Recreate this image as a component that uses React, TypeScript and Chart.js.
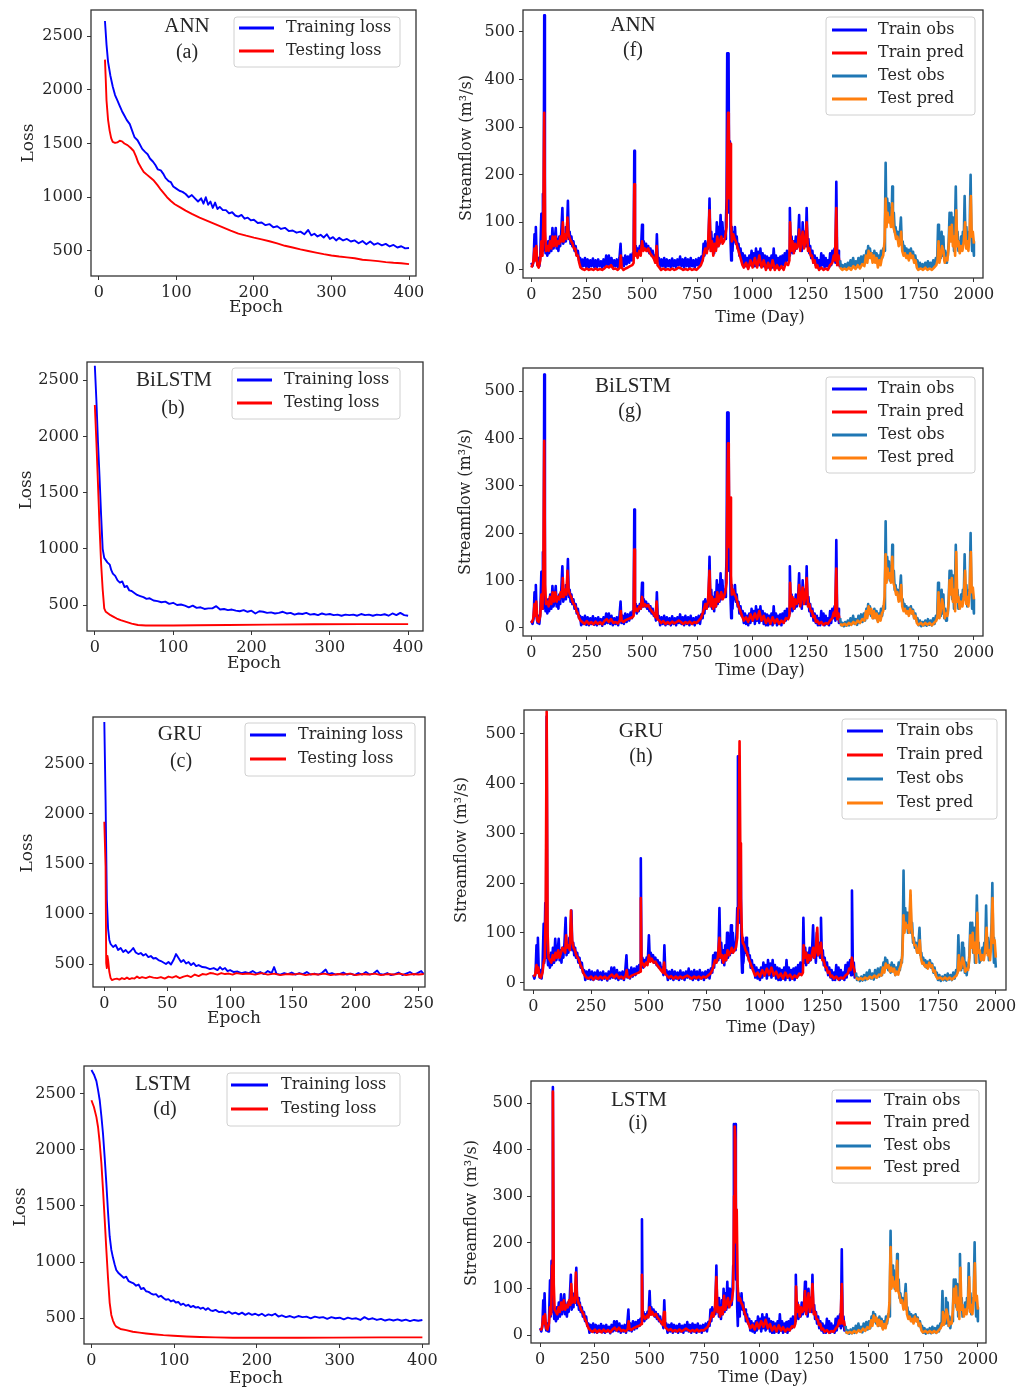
import React, { useEffect, useRef } from "react";
import { Chart, registerables } from "chart.js";
Chart.register(...registerables);

type Pair = [number, number];

// ---------- tick labels ----------
const LOSS_X_TICKS_400 = [0, 100, 200, 300, 400];
const LOSS_X_TICKS_GRU = [0, 50, 100, 150, 200, 250];
const LOSS_Y_TICKS = [500, 1000, 1500, 2000, 2500];
const FLOW_X_TICKS = [0, 250, 500, 750, 1000, 1250, 1500, 1750, 2000];
const FLOW_Y_TICKS = [0, 100, 200, 300, 400, 500];

// ---------- loss curves [epoch, loss] ----------
const annTrainLoss: Pair[] = [[8,2640],[10,2420],[12,2260],[15,2130],[18,2030],[21,1950],[24,1900],[27,1850],[30,1800],[33,1760],[36,1720],[40,1680],[43,1620],[46,1560],[50,1530],[53,1490],[56,1450],[60,1420],[63,1400],[66,1360],[70,1330],[73,1300],[76,1260],[80,1250],[83,1220],[86,1180],[90,1150],[93,1140],[96,1100],[100,1080],[104,1060],[108,1050],[112,1030],[116,1000],[120,1020],[124,990],[128,960],[132,990],[135,940],[138,1000],[141,930],[144,960],[147,900],[150,950],[153,890],[156,910],[160,880],[164,880],[168,850],[172,860],[176,830],[180,820],[184,835],[188,800],[192,810],[196,785],[200,790],[205,760],[210,765],[215,740],[220,750],[225,720],[230,730],[235,705],[240,715],[245,685],[250,690],[255,670],[260,680],[265,655],[270,695],[274,645],[278,660],[282,635],[286,650],[290,625],[294,655],[298,612],[302,628],[306,598],[310,622],[315,598],[320,612],[325,588],[330,598],[335,572],[340,592],[345,562],[350,588],[355,558],[360,572],[365,552],[370,566],[375,542],[380,556],[385,532],[390,544],[395,524],[400,528]];
const annTestLoss: Pair[] = [[8,2280],[9,2100],[10,1900],[12,1720],[14,1620],[16,1550],[18,1515],[21,1505],[24,1510],[27,1525],[30,1520],[33,1500],[37,1485],[41,1460],[45,1430],[48,1380],[51,1320],[55,1270],[58,1235],[62,1210],[66,1185],[71,1155],[76,1110],[80,1070],[84,1035],[88,1000],[93,965],[98,935],[105,905],[112,875],[120,845],[130,810],[140,780],[150,750],[160,720],[170,690],[180,662],[190,642],[200,624],[210,608],[220,590],[230,570],[240,548],[250,532],[260,515],[270,500],[280,485],[290,470],[300,458],[310,448],[320,440],[330,432],[340,418],[350,412],[360,405],[370,396],[380,390],[390,386],[400,378]];
const bilstmTrainLoss: Pair[] = [[0,2630],[2,2320],[4,1950],[6,1640],[8,1300],[10,1000],[12,920],[14,900],[16,880],[19,860],[21,810],[23,780],[26,760],[29,720],[32,700],[35,710],[38,660],[41,670],[44,630],[47,625],[50,610],[54,590],[58,580],[62,570],[66,555],[70,560],[75,540],[80,535],[85,525],[90,530],[95,510],[100,520],[105,500],[110,505],[115,495],[120,480],[125,495],[130,475],[135,480],[140,465],[145,470],[150,470],[155,490],[160,460],[165,465],[170,455],[175,460],[180,450],[185,445],[190,455],[195,440],[200,450],[205,425],[210,445],[215,440],[220,430],[225,435],[230,425],[235,430],[240,440],[245,425],[250,430],[255,415],[260,425],[265,420],[270,430],[275,415],[280,420],[285,410],[290,425],[295,415],[300,420],[305,410],[310,415],[315,405],[320,415],[325,410],[330,415],[335,405],[340,420],[345,410],[350,415],[355,405],[360,415],[365,410],[370,418],[375,405],[380,425],[385,410],[390,430],[395,410],[400,405]];
const bilstmTestLoss: Pair[] = [[0,2280],[2,1950],[4,1580],[6,1200],[8,870],[10,640],[12,470],[14,440],[17,425],[20,410],[24,395],[28,380],[33,365],[40,350],[47,335],[55,322],[65,318],[80,318],[100,318],[130,320],[170,323],[220,326],[280,329],[340,330],[400,330]];
const gruTrainLoss: Pair[] = [[0,2915],[1,2135],[2,1140],[3,850],[4,740],[5,700],[7,670],[9,690],[11,640],[13,660],[15,620],[17,640],[19,610],[21,630],[23,660],[25,615],[27,600],[29,610],[31,585],[33,600],[35,570],[37,580],[39,555],[41,560],[43,540],[45,530],[47,515],[49,500],[51,520],[53,495],[55,540],[57,600],[59,560],[61,520],[63,540],[65,505],[67,520],[69,490],[71,510],[73,480],[75,490],[78,470],[81,465],[84,450],[87,460],[90,440],[92,470],[94,445],[96,460],[98,430],[100,440],[103,420],[106,425],[109,410],[112,420],[115,410],[118,430],[121,405],[124,420],[127,400],[130,430],[133,410],[135,470],[137,400],[140,395],[143,410],[146,400],[149,415],[152,395],[155,410],[158,400],[161,420],[164,395],[167,405],[170,395],[173,410],[176,445],[178,400],[181,410],[184,395],[187,400],[190,415],[193,395],[196,405],[199,390],[202,410],[205,395],[208,420],[211,395],[214,405],[217,435],[219,400],[222,395],[225,410],[228,390],[231,400],[234,415],[237,390],[240,405],[243,420],[246,395],[249,410],[252,430],[254,400]];
const gruTestLoss: Pair[] = [[0,1920],[1,1470],[1.5,510],[2,460],[2.5,580],[3,540],[4,420],[5,360],[6,340],[8,350],[10,355],[12,345],[14,360],[16,350],[18,365],[20,350],[22,360],[24,355],[26,375],[28,360],[30,370],[33,360],[36,375],[39,365],[42,360],[45,370],[48,355],[51,375],[54,365],[57,380],[60,360],[63,375],[66,385],[69,370],[72,395],[75,380],[78,400],[81,395],[84,410],[87,405],[90,395],[93,410],[96,400],[99,405],[102,395],[105,410],[110,400],[115,405],[120,395],[125,410],[130,395],[135,405],[140,390],[145,400],[150,395],[155,405],[160,390],[165,400],[170,395],[175,405],[180,390],[185,400],[190,395],[195,405],[200,390],[205,400],[210,395],[215,405],[220,390],[225,400],[230,395],[235,405],[240,390],[245,400],[250,395],[254,400]];
const lstmTrainLoss: Pair[] = [[0,2710],[3,2670],[6,2610],[8,2530],[10,2440],[12,2300],[14,2140],[16,1930],[18,1700],[20,1450],[22,1230],[24,1110],[26,1040],[28,980],[30,930],[33,900],[36,880],[39,860],[42,870],[45,830],[48,820],[51,810],[54,790],[57,800],[60,760],[63,770],[66,740],[69,735],[72,720],[75,710],[78,715],[81,690],[84,700],[87,680],[90,665],[93,670],[96,650],[99,660],[102,640],[105,645],[108,620],[111,630],[114,610],[117,620],[120,600],[123,610],[126,595],[129,600],[132,585],[135,595],[138,575],[141,590],[144,570],[147,565],[150,575],[154,555],[158,560],[162,545],[166,560],[170,540],[174,550],[178,535],[182,550],[186,530],[190,545],[194,530],[198,540],[202,525],[206,540],[210,520],[214,535],[218,525],[222,540],[226,515],[230,525],[235,510],[240,520],[245,505],[250,520],[255,510],[260,515],[265,500],[270,515],[275,505],[280,510],[285,495],[290,510],[295,500],[300,505],[305,490],[310,505],[315,495],[320,500],[325,485],[330,510],[335,490],[340,500],[345,485],[350,495],[355,480],[360,490],[365,480],[370,490],[375,478],[380,488],[385,475],[390,485],[395,478],[400,485]];
const lstmTestLoss: Pair[] = [[0,2440],[3,2380],[6,2290],[8,2200],[10,2060],[12,1880],[14,1640],[16,1380],[18,1110],[20,860],[22,640],[24,530],[26,480],[28,445],[30,425],[35,405],[42,395],[50,380],[58,372],[66,365],[75,358],[87,350],[99,344],[115,338],[131,333],[150,330],[171,327],[211,326],[250,327],[292,328],[350,330],[400,330]];

// ---------- streamflow [day, m3/s] ----------
const trainObs: Pair[] = [[0,15],[5,8],[10,20],[14,75],[17,30],[20,90],[24,20],[28,10],[32,25],[36,8],[40,30],[45,118],[48,40],[52,160],[55,50],[58,535],[61,60],[64,35],[68,55],[72,30],[76,60],[80,35],[85,70],[90,40],[95,88],[100,45],[105,60],[110,88],[114,45],[118,65],[122,40],[126,70],[130,50],[135,80],[140,130],[144,55],[148,75],[152,60],[156,90],[160,70],[165,145],[169,65],[173,80],[177,55],[181,70],[185,50],[190,60],[195,40],[200,50],[205,30],[210,40],[215,20],[220,25],[225,5],[230,22],[236,8],[242,25],[248,6],[254,22],[260,5],[266,20],[272,8],[278,24],[284,6],[290,20],[296,5],[302,22],[308,8],[314,18],[320,4],[326,22],[332,8],[338,30],[344,10],[350,30],[356,8],[362,25],[368,5],[374,20],[380,8],[386,22],[392,5],[398,25],[403,55],[407,10],[412,25],[418,8],[424,30],[430,12],[436,28],[442,15],[448,32],[454,20],[458,35],[462,30],[465,250],[468,35],[472,50],[476,30],[480,45],[485,35],[490,50],[495,40],[500,95],[504,45],[508,60],[513,45],[518,55],[523,40],[528,50],[533,35],[538,45],[543,30],[548,40],[553,25],[558,30],[563,15],[567,75],[571,20],[576,25],[582,5],[588,22],[594,8],[600,25],[606,5],[612,22],[618,8],[624,20],[630,5],[636,24],[642,8],[648,20],[654,5],[660,22],[666,10],[672,28],[678,8],[684,22],[690,5],[696,25],[702,8],[708,22],[714,5],[720,25],[726,8],[732,20],[738,5],[744,22],[750,10],[756,25],[762,8],[768,28],[774,20],[778,55],[782,30],[786,60],[790,40],[795,55],[800,45],[805,150],[809,50],[813,80],[817,40],[822,65],[826,35],[830,75],[834,45],[838,100],[842,50],[846,90],[850,55],[855,115],[859,60],[863,100],[867,70],[871,80],[875,65],[879,100],[882,150],[885,455],[888,440],[891,455],[894,120],[897,270],[900,60],[903,20],[906,90],[909,40],[912,80],[916,60],[920,90],[924,55],[928,70],[932,45],[936,55],[940,30],[945,45],[950,25],[955,35],[960,10],[965,30],[970,8],[975,25],[980,5],[985,30],[990,10],[995,40],[1000,15],[1005,35],[1010,8],[1015,45],[1020,15],[1025,38],[1030,10],[1035,45],[1040,15],[1045,35],[1050,8],[1055,30],[1060,5],[1065,28],[1070,5],[1075,25],[1080,8],[1085,30],[1090,5],[1095,45],[1100,10],[1105,30],[1110,5],[1115,25],[1120,8],[1125,28],[1130,5],[1135,30],[1140,10],[1145,35],[1150,15],[1155,40],[1160,20],[1165,30],[1168,130],[1172,40],[1176,70],[1180,35],[1185,60],[1190,40],[1195,70],[1200,45],[1205,60],[1210,115],[1214,50],[1218,70],[1222,40],[1226,100],[1230,55],[1235,80],[1240,50],[1244,130],[1248,50],[1252,65],[1256,35],[1260,50],[1265,25],[1270,40],[1275,15],[1280,30],[1285,10],[1290,25],[1295,5],[1300,20],[1305,5],[1310,35],[1315,10],[1320,30],[1325,5],[1330,25],[1335,8],[1340,20],[1345,5],[1350,35],[1355,10],[1360,40],[1365,20],[1370,45],[1374,15],[1378,185],[1382,20],[1386,40],[1390,10],[1395,20]];
const testObs: Pair[] = [[1395,20],[1400,5],[1406,10],[1412,3],[1418,12],[1424,4],[1430,15],[1436,5],[1442,20],[1448,8],[1454,25],[1460,8],[1466,18],[1472,6],[1478,25],[1484,10],[1490,28],[1496,12],[1502,30],[1508,15],[1514,40],[1518,25],[1522,50],[1526,30],[1530,45],[1535,25],[1540,35],[1545,20],[1550,40],[1555,25],[1560,35],[1565,15],[1570,30],[1575,20],[1580,40],[1585,25],[1590,45],[1594,40],[1598,100],[1601,225],[1604,110],[1608,150],[1612,120],[1616,140],[1620,100],[1624,130],[1628,110],[1631,175],[1634,100],[1638,120],[1642,80],[1646,90],[1650,70],[1655,80],[1660,60],[1665,75],[1670,110],[1674,55],[1678,60],[1682,40],[1686,50],[1690,35],[1695,45],[1700,30],[1705,42],[1710,35],[1715,45],[1720,30],[1725,38],[1730,20],[1735,30],[1740,15],[1745,20],[1750,5],[1756,15],[1762,3],[1768,12],[1774,5],[1780,15],[1786,4],[1792,18],[1798,6],[1804,15],[1810,5],[1816,20],[1822,8],[1828,25],[1834,20],[1838,95],[1842,30],[1846,50],[1850,25],[1854,80],[1858,30],[1862,70],[1866,20],[1870,40],[1874,15],[1878,35],[1882,30],[1886,60],[1890,120],[1894,90],[1898,120],[1902,60],[1906,110],[1910,40],[1914,80],[1918,175],[1922,60],[1926,80],[1930,40],[1934,60],[1938,45],[1942,70],[1946,50],[1950,80],[1954,60],[1958,155],[1962,60],[1966,90],[1970,45],[1974,60],[1978,80],[1982,120],[1985,200],[1988,90],[1992,40],[1996,60],[2000,30]];

const annTrainPred: Pair[] = [[0,5],[8,15],[14,45],[18,20],[22,50],[27,10],[33,5],[40,20],[45,60],[50,30],[54,100],[58,330],[62,80],[66,40],[72,50],[78,40],[84,60],[90,45],[96,70],[102,50],[108,70],[114,50],[120,60],[126,55],[132,70],[138,60],[142,100],[146,60],[152,75],[158,65],[163,110],[168,75],[174,65],[180,60],[186,55],[192,45],[198,45],[204,30],[210,30],[216,15],[222,5],[230,2],[240,0],[250,3],[260,0],[270,2],[280,0],[290,3],[300,0],[310,2],[320,0],[330,3],[340,8],[350,5],[360,10],[370,2],[380,3],[390,0],[400,5],[404,30],[408,5],[416,0],[426,3],[436,5],[446,8],[456,10],[462,15],[465,180],[468,30],[474,35],[480,25],[488,40],[494,30],[500,60],[506,40],[512,45],[520,40],[528,45],[536,35],[544,30],[552,25],[560,15],[566,50],[570,10],[578,5],[586,0],[596,3],[606,0],[616,2],[626,0],[636,3],[646,0],[656,2],[666,5],[676,3],[686,0],[696,2],[706,0],[716,3],[726,0],[736,2],[746,0],[756,5],[766,10],[774,20],[780,35],[786,45],[792,35],[798,50],[805,125],[810,40],[816,60],[822,30],[828,55],[834,40],[840,70],[846,50],[852,60],[858,70],[864,55],[870,60],[876,70],[882,90],[886,260],[889,330],[892,310],[895,150],[898,265],[902,100],[906,60],[912,75],[918,65],[924,60],[930,50],[936,40],[942,30],[948,20],[954,10],[960,5],[970,15],[980,2],[990,20],[1000,5],[1010,25],[1020,5],[1030,30],[1040,5],[1050,20],[1060,0],[1070,15],[1080,0],[1090,20],[1100,0],[1110,10],[1120,0],[1130,8],[1140,0],[1150,15],[1160,10],[1166,20],[1169,100],[1174,40],[1180,60],[1186,35],[1192,55],[1198,45],[1204,50],[1210,85],[1215,40],[1220,60],[1226,80],[1232,45],[1238,60],[1244,100],[1250,40],[1256,45],[1262,30],[1268,30],[1274,15],[1280,20],[1286,5],[1292,10],[1300,0],[1310,5],[1320,0],[1330,3],[1340,0],[1350,10],[1360,15],[1366,30],[1372,20],[1378,130],[1382,10],[1388,30],[1395,5]];
const annTestPred: Pair[] = [[1395,5],[1405,0],[1415,3],[1425,0],[1435,5],[1445,0],[1455,8],[1465,2],[1475,10],[1485,3],[1495,12],[1505,8],[1512,30],[1518,15],[1524,40],[1530,25],[1536,35],[1542,15],[1548,30],[1554,15],[1560,25],[1566,5],[1572,20],[1578,10],[1584,25],[1590,30],[1596,60],[1601,150],[1605,90],[1610,120],[1615,100],[1620,110],[1625,90],[1631,140],[1636,90],[1642,80],[1648,65],[1654,70],[1660,50],[1666,55],[1671,80],[1676,40],[1682,30],[1688,35],[1694,25],[1700,30],[1706,20],[1712,35],[1718,25],[1724,30],[1730,15],[1736,20],[1742,5],[1748,0],[1760,3],[1770,0],[1780,5],[1790,0],[1800,3],[1810,0],[1820,5],[1830,10],[1836,20],[1840,60],[1844,15],[1850,30],[1856,50],[1862,40],[1868,15],[1874,25],[1880,20],[1886,50],[1890,90],[1895,60],[1900,95],[1905,50],[1910,70],[1915,30],[1920,125],[1925,50],[1930,60],[1936,35],[1942,50],[1948,40],[1954,60],[1960,100],[1965,45],[1970,60],[1975,40],[1980,70],[1986,155],[1990,70],[1995,80],[2000,55]];

const bilstmTrainPred: Pair[] = [[0,10],[8,18],[14,50],[18,25],[22,55],[27,15],[33,12],[40,25],[45,70],[50,40],[54,110],[58,395],[62,90],[66,50],[72,55],[78,45],[84,65],[90,50],[96,75],[102,55],[108,75],[114,55],[120,65],[126,60],[132,75],[138,65],[142,105],[146,65],[152,80],[158,70],[163,120],[168,80],[174,70],[180,65],[186,55],[192,50],[198,45],[204,35],[210,30],[216,20],[222,15],[230,12],[240,8],[250,14],[260,8],[270,12],[280,7],[290,13],[300,8],[310,12],[320,7],[330,14],[340,18],[350,12],[360,18],[370,10],[380,12],[390,9],[400,15],[404,35],[408,15],[416,12],[426,16],[436,18],[446,20],[456,22],[462,25],[465,165],[468,35],[474,40],[480,35],[488,45],[494,40],[500,65],[506,45],[512,50],[520,45],[528,48],[536,40],[544,35],[552,30],[560,22],[566,55],[570,18],[578,15],[586,10],[596,14],[606,8],[616,12],[626,8],[636,13],[646,9],[656,12],[666,15],[676,12],[686,8],[696,12],[706,9],[716,13],[726,8],[736,12],[746,10],[756,15],[766,20],[774,30],[780,40],[786,50],[792,40],[798,55],[805,120],[810,45],[816,65],[822,40],[828,60],[834,45],[840,75],[846,55],[852,65],[858,75],[864,60],[870,65],[876,75],[882,95],[886,300],[889,390],[892,360],[895,170],[898,275],[902,110],[906,70],[912,80],[918,70],[924,65],[930,55],[936,45],[942,38],[948,30],[954,22],[960,15],[970,22],[980,12],[990,28],[1000,15],[1010,30],[1020,18],[1030,35],[1040,15],[1050,25],[1060,10],[1070,20],[1080,8],[1090,22],[1100,10],[1110,18],[1120,8],[1130,15],[1140,10],[1150,20],[1160,18],[1166,25],[1169,95],[1174,45],[1180,65],[1186,40],[1192,60],[1198,50],[1204,55],[1210,90],[1215,45],[1220,65],[1226,85],[1232,50],[1238,65],[1244,105],[1250,45],[1256,50],[1262,35],[1268,35],[1274,22],[1280,25],[1286,12],[1292,15],[1300,8],[1310,12],[1320,6],[1330,10],[1340,8],[1350,15],[1360,20],[1366,32],[1372,25],[1378,125],[1382,18],[1388,30],[1395,10]];
const bilstmTestPred: Pair[] = [[1395,8],[1405,5],[1415,8],[1425,5],[1435,10],[1445,6],[1455,12],[1465,8],[1475,15],[1485,10],[1495,18],[1505,15],[1512,35],[1518,20],[1524,45],[1530,30],[1536,40],[1542,20],[1548,35],[1554,20],[1560,30],[1566,12],[1572,25],[1578,15],[1584,30],[1590,35],[1596,65],[1601,155],[1605,95],[1610,125],[1615,105],[1620,115],[1625,95],[1631,150],[1636,95],[1642,85],[1648,70],[1654,75],[1660,55],[1666,60],[1671,90],[1676,45],[1682,35],[1688,40],[1694,30],[1700,35],[1706,25],[1712,40],[1718,30],[1724,35],[1730,20],[1736,25],[1742,10],[1748,6],[1760,10],[1770,5],[1780,10],[1790,6],[1800,10],[1810,5],[1820,10],[1830,15],[1836,25],[1840,75],[1844,20],[1850,35],[1856,60],[1862,45],[1868,20],[1874,30],[1880,25],[1886,55],[1890,100],[1895,70],[1900,105],[1905,55],[1910,80],[1915,35],[1920,160],[1925,55],[1930,65],[1936,40],[1942,55],[1948,45],[1954,65],[1960,120],[1965,50],[1970,65],[1975,45],[1980,75],[1986,160],[1990,75],[1995,85],[2000,60]];

const gruTrainPred: Pair[] = [[0,12],[8,15],[14,35],[18,20],[22,30],[27,12],[33,10],[40,20],[45,40],[50,50],[54,150],[58,545],[62,100],[66,50],[72,45],[78,40],[84,55],[90,45],[96,60],[102,50],[108,65],[114,50],[120,60],[126,70],[132,65],[138,60],[142,95],[146,70],[152,75],[158,65],[163,145],[168,85],[174,70],[180,65],[186,55],[192,50],[198,45],[204,35],[210,30],[216,20],[222,15],[230,10],[240,8],[250,12],[260,6],[270,12],[280,7],[290,12],[300,8],[310,12],[320,7],[330,12],[340,16],[350,10],[360,16],[370,9],[380,12],[390,8],[400,14],[404,25],[408,12],[416,10],[426,14],[436,16],[446,18],[456,20],[462,22],[465,170],[468,40],[474,38],[480,32],[488,40],[494,35],[500,55],[506,42],[512,48],[520,40],[528,42],[536,35],[544,30],[552,25],[560,20],[566,40],[570,18],[578,14],[586,10],[596,13],[606,8],[616,12],[626,8],[636,12],[646,9],[656,12],[666,14],[676,11],[686,8],[696,12],[706,9],[716,12],[726,8],[736,12],[746,10],[756,14],[766,18],[774,25],[780,35],[786,45],[792,40],[798,50],[805,90],[810,50],[816,55],[822,40],[828,55],[834,45],[840,65],[846,55],[852,60],[858,70],[864,60],[870,65],[876,70],[882,90],[886,150],[889,300],[892,485],[895,280],[898,170],[902,100],[906,80],[912,75],[918,65],[924,60],[930,50],[936,42],[942,35],[948,28],[954,20],[960,14],[970,20],[980,12],[990,25],[1000,14],[1010,28],[1020,16],[1030,30],[1040,14],[1050,22],[1060,10],[1070,18],[1080,8],[1090,20],[1100,10],[1110,16],[1120,8],[1130,14],[1140,10],[1150,18],[1160,15],[1166,20],[1169,75],[1174,50],[1180,60],[1186,40],[1192,55],[1198,45],[1204,55],[1210,70],[1215,50],[1220,60],[1228,110],[1232,55],[1238,60],[1244,80],[1250,45],[1256,45],[1262,32],[1268,30],[1274,20],[1280,22],[1286,12],[1292,14],[1300,8],[1310,12],[1320,6],[1330,10],[1340,8],[1350,14],[1360,18],[1366,28],[1372,25],[1378,50],[1382,35],[1388,25],[1395,10]];
const gruTestPred: Pair[] = [[1395,10],[1405,6],[1415,9],[1425,6],[1435,10],[1445,7],[1455,12],[1465,9],[1475,14],[1485,10],[1495,16],[1505,14],[1512,30],[1518,20],[1524,38],[1530,30],[1536,35],[1542,22],[1548,30],[1554,22],[1560,28],[1566,15],[1572,22],[1578,16],[1584,28],[1590,35],[1596,55],[1601,135],[1605,100],[1610,120],[1615,110],[1620,115],[1625,100],[1631,185],[1636,110],[1642,90],[1648,75],[1654,75],[1660,60],[1666,60],[1671,85],[1676,50],[1682,38],[1688,40],[1694,32],[1700,35],[1706,28],[1712,40],[1718,32],[1724,35],[1730,22],[1736,24],[1742,12],[1748,8],[1760,10],[1770,6],[1780,10],[1790,6],[1800,10],[1810,6],[1820,10],[1830,14],[1836,22],[1840,55],[1844,25],[1850,30],[1856,50],[1862,40],[1868,22],[1874,28],[1880,25],[1886,50],[1890,95],[1895,70],[1900,100],[1905,60],[1910,80],[1915,40],[1920,140],[1925,60],[1930,65],[1936,45],[1942,55],[1948,45],[1954,65],[1960,110],[1965,55],[1970,65],[1975,45],[1980,75],[1986,170],[1990,80],[1995,85],[2000,50]];

const lstmTrainPred: Pair[] = [[0,10],[8,15],[14,40],[18,25],[22,45],[27,15],[33,12],[40,25],[45,60],[50,45],[54,150],[58,525],[62,110],[66,55],[72,50],[78,45],[84,60],[90,50],[96,70],[102,55],[108,75],[114,55],[120,65],[126,60],[132,75],[138,65],[142,110],[146,70],[152,80],[158,70],[163,135],[168,85],[174,70],[180,65],[186,55],[192,50],[198,45],[204,35],[210,30],[216,20],[222,14],[230,10],[240,7],[250,12],[260,6],[270,11],[280,6],[290,12],[300,7],[310,11],[320,6],[330,12],[340,16],[350,10],[360,16],[370,9],[380,11],[390,8],[400,13],[404,30],[408,14],[416,11],[426,15],[436,17],[446,19],[456,21],[462,24],[465,130],[468,45],[474,40],[480,35],[488,42],[494,38],[500,60],[506,44],[512,50],[520,42],[528,46],[536,38],[544,33],[552,28],[560,22],[566,50],[570,18],[578,14],[586,10],[596,13],[606,8],[616,11],[626,8],[636,12],[646,8],[656,11],[666,14],[676,11],[686,8],[696,11],[706,8],[716,12],[726,8],[736,11],[746,10],[756,14],[766,18],[774,28],[780,38],[786,48],[792,40],[798,55],[805,125],[810,50],[816,60],[822,40],[828,60],[834,45],[840,85],[846,55],[852,70],[858,80],[864,60],[870,70],[876,75],[882,100],[886,300],[889,450],[892,420],[895,200],[898,270],[902,110],[906,75],[912,80],[918,70],[924,65],[930,55],[936,45],[942,38],[948,30],[954,22],[960,15],[970,22],[980,12],[990,27],[1000,15],[1010,30],[1020,18],[1030,33],[1040,15],[1050,24],[1060,10],[1070,19],[1080,8],[1090,21],[1100,10],[1110,17],[1120,8],[1130,14],[1140,10],[1150,19],[1160,17],[1166,25],[1169,105],[1174,50],[1180,65],[1186,40],[1192,60],[1198,50],[1204,55],[1210,95],[1215,45],[1220,65],[1226,90],[1232,50],[1238,65],[1244,110],[1250,45],[1256,50],[1262,35],[1268,33],[1274,22],[1280,24],[1286,12],[1292,14],[1300,7],[1310,11],[1320,5],[1330,9],[1340,7],[1350,14],[1360,20],[1366,32],[1372,25],[1378,110],[1382,25],[1388,30],[1395,10]];
const lstmTestPred: Pair[] = [[1395,8],[1405,4],[1415,7],[1425,4],[1435,9],[1445,5],[1455,11],[1465,7],[1475,14],[1485,9],[1495,17],[1505,14],[1512,32],[1518,20],[1524,42],[1530,30],[1536,38],[1542,20],[1548,33],[1554,20],[1560,30],[1566,12],[1572,24],[1578,15],[1584,30],[1590,38],[1596,70],[1601,190],[1605,100],[1610,125],[1615,105],[1620,115],[1625,95],[1631,160],[1636,95],[1642,85],[1648,70],[1654,75],[1660,55],[1666,60],[1671,90],[1676,45],[1682,35],[1688,40],[1694,30],[1700,35],[1706,25],[1712,40],[1718,30],[1724,35],[1730,20],[1736,25],[1742,10],[1748,6],[1760,9],[1770,5],[1780,9],[1790,5],[1800,9],[1810,5],[1820,10],[1830,15],[1836,25],[1840,50],[1844,22],[1850,32],[1856,55],[1862,42],[1868,20],[1874,28],[1880,25],[1886,55],[1890,100],[1895,70],[1900,105],[1905,55],[1910,80],[1915,35],[1920,145],[1925,55],[1930,65],[1936,40],[1942,55],[1948,45],[1954,65],[1960,125],[1965,50],[1970,65],[1975,45],[1980,75],[1986,155],[1990,75],[1995,85],[2000,55]];

// ---------- styles ----------
const SERIF = "'DejaVu Serif', serif";
const TITLE_SERIF = "'Liberation Serif', 'Times New Roman', serif";
const TEXT_COLOR = "#262626";
const C_BLUE = "#0000ff";
const C_RED = "#ff0000";
const C_TEST_OBS = "#1f77b4";
const C_TEST_PRED = "#ff7f0e";

const YW = 64, XH = 36, PT = 12, PR = 30;

type Series = { label: string; color: string; data: Pair[]; width: number; order: number };
type LegendSpec = { box: [number, number, number, number]; rows: number[]; handle: [number, number]; textX: number };
type PanelSpec = {
  plot: { l: number; t: number; r: number; b: number };
  x: [number, number]; y: [number, number];
  xTicks: number[]; yTicks: number[];
  series: Series[]; legend: LegendSpec;
};

function lossSeries(train: Pair[], test: Pair[]): Series[] {
  return [
    { label: "Training loss", color: C_BLUE, data: train, width: 1.9, order: 2 },
    { label: "Testing loss", color: C_RED, data: test, width: 1.9, order: 1 },
  ];
}
function flowSeries(trainPred: Pair[], testPred: Pair[]): Series[] {
  return [
    { label: "Train obs", color: C_BLUE, data: trainObs, width: 2.6, order: 4 },
    { label: "Train pred", color: C_RED, data: trainPred, width: 2.6, order: 3 },
    { label: "Test obs", color: C_TEST_OBS, data: testObs, width: 2.6, order: 2 },
    { label: "Test pred", color: C_TEST_PRED, data: testPred, width: 2.6, order: 1 },
  ];
}

const PANELS: PanelSpec[] = [
  { plot: { l: 91, t: 10, r: 416, b: 276 }, x: [-10, 409], y: [267, 2742], xTicks: LOSS_X_TICKS_400, yTicks: LOSS_Y_TICKS,
    series: lossSeries(annTrainLoss, annTestLoss), legend: { box: [234, 17, 400, 67], rows: [28, 51], handle: [239, 274], textX: 286 } },
  { plot: { l: 87, t: 362, r: 423, b: 631 }, x: [-10, 419], y: [269, 2663], xTicks: LOSS_X_TICKS_400, yTicks: LOSS_Y_TICKS,
    series: lossSeries(bilstmTrainLoss, bilstmTestLoss), legend: { box: [232, 368, 400, 419], rows: [380, 403], handle: [237, 272], textX: 284 } },
  { plot: { l: 93, t: 717, r: 425, b: 987 }, x: [-9, 255], y: [271, 2964], xTicks: LOSS_X_TICKS_GRU, yTicks: LOSS_Y_TICKS,
    series: lossSeries(gruTrainLoss, gruTestLoss), legend: { box: [245, 723, 415, 776], rows: [735, 759], handle: [250, 286], textX: 298 } },
  { plot: { l: 84, t: 1066, r: 429, b: 1344 }, x: [-9, 408], y: [271, 2745], xTicks: LOSS_X_TICKS_400, yTicks: LOSS_Y_TICKS,
    series: lossSeries(lstmTrainLoss, lstmTestLoss), legend: { box: [227, 1073, 400, 1126], rows: [1085, 1109], handle: [231, 268], textX: 281 } },
  { plot: { l: 523, t: 10, r: 983, b: 278 }, x: [-38, 2041], y: [-17, 546], xTicks: FLOW_X_TICKS, yTicks: FLOW_Y_TICKS,
    series: flowSeries(annTrainPred, annTestPred), legend: { box: [826, 17, 975, 115], rows: [30, 53, 76, 99], handle: [832, 867], textX: 878 } },
  { plot: { l: 523, t: 368, r: 983, b: 636 }, x: [-38, 2041], y: [-17.6, 549], xTicks: FLOW_X_TICKS, yTicks: FLOW_Y_TICKS,
    series: flowSeries(bilstmTrainPred, bilstmTestPred), legend: { box: [826, 377, 975, 473], rows: [389, 412, 435, 458], handle: [832, 867], textX: 878 } },
  { plot: { l: 524, t: 710, r: 1006, b: 990 }, x: [-40, 2044], y: [-15, 548], xTicks: FLOW_X_TICKS, yTicks: FLOW_Y_TICKS,
    series: flowSeries(gruTrainPred, gruTestPred), legend: { box: [842, 719, 997, 819], rows: [731, 755, 779, 803], handle: [847, 883], textX: 897 } },
  { plot: { l: 531, t: 1081, r: 986, b: 1343 }, x: [-42, 2037], y: [-17, 548], xTicks: FLOW_X_TICKS, yTicks: FLOW_Y_TICKS,
    series: flowSeries(lstmTrainPred, lstmTestPred), legend: { box: [832, 1090, 979, 1183], rows: [1101, 1123, 1146, 1168], handle: [836, 871], textX: 884 } },
];

type Label = { text: string; x: number; y: number; size: number; family: string; rotate?: boolean };
const LABELS: Label[] = [
  { text: "ANN", x: 187, y: 25, size: 21, family: TITLE_SERIF },
  { text: "(a)", x: 187, y: 51, size: 20, family: TITLE_SERIF },
  { text: "Epoch", x: 256, y: 306, size: 17, family: SERIF },
  { text: "Loss", x: 27, y: 143, size: 17, family: SERIF, rotate: true },
  { text: "BiLSTM", x: 174, y: 379, size: 21, family: TITLE_SERIF },
  { text: "(b)", x: 173, y: 407, size: 20, family: TITLE_SERIF },
  { text: "Epoch", x: 254, y: 662, size: 17, family: SERIF },
  { text: "Loss", x: 25, y: 490, size: 17, family: SERIF, rotate: true },
  { text: "GRU", x: 180, y: 733, size: 21, family: TITLE_SERIF },
  { text: "(c)", x: 181, y: 760, size: 20, family: TITLE_SERIF },
  { text: "Epoch", x: 234, y: 1017, size: 17, family: SERIF },
  { text: "Loss", x: 26, y: 853, size: 17, family: SERIF, rotate: true },
  { text: "LSTM", x: 163, y: 1083, size: 21, family: TITLE_SERIF },
  { text: "(d)", x: 165, y: 1108, size: 20, family: TITLE_SERIF },
  { text: "Epoch", x: 256, y: 1377, size: 17, family: SERIF },
  { text: "Loss", x: 19, y: 1207, size: 17, family: SERIF, rotate: true },
  { text: "ANN", x: 633, y: 24, size: 21, family: TITLE_SERIF },
  { text: "(f)", x: 633, y: 49, size: 20, family: TITLE_SERIF },
  { text: "Time (Day)", x: 760, y: 317, size: 16, family: SERIF },
  { text: "Streamflow (m\u00b3/s)", x: 466, y: 148, size: 16, family: SERIF, rotate: true },
  { text: "BiLSTM", x: 633, y: 385, size: 21, family: TITLE_SERIF },
  { text: "(g)", x: 630, y: 410, size: 20, family: TITLE_SERIF },
  { text: "Time (Day)", x: 760, y: 670, size: 16, family: SERIF },
  { text: "Streamflow (m\u00b3/s)", x: 465, y: 502, size: 16, family: SERIF, rotate: true },
  { text: "GRU", x: 641, y: 730, size: 21, family: TITLE_SERIF },
  { text: "(h)", x: 641, y: 755, size: 20, family: TITLE_SERIF },
  { text: "Time (Day)", x: 771, y: 1027, size: 16, family: SERIF },
  { text: "Streamflow (m\u00b3/s)", x: 461, y: 850, size: 16, family: SERIF, rotate: true },
  { text: "LSTM", x: 639, y: 1099, size: 21, family: TITLE_SERIF },
  { text: "(i)", x: 638, y: 1122, size: 20, family: TITLE_SERIF },
  { text: "Time (Day)", x: 763, y: 1377, size: 16, family: SERIF },
  { text: "Streamflow (m\u00b3/s)", x: 471, y: 1213, size: 16, family: SERIF, rotate: true },
];

const TICK_FONT = { family: SERIF, size: 16 };
const LEGEND_FONT = `16px ${SERIF}`;

function Panel({ spec }: { spec: PanelSpec }) {
  const ref = useRef<HTMLCanvasElement | null>(null);
  const pw = spec.plot.r - spec.plot.l;
  const ph = spec.plot.b - spec.plot.t;
  const cl = spec.plot.l - YW;
  const ct = spec.plot.t - PT;
  const cw = pw + YW + PR;
  const ch = ph + PT + XH;

  useEffect(() => {
    const canvas = ref.current;
    if (!canvas) return;
    const frame = {
      id: "frame",
      afterDatasetsDraw(chart: any) {
        const { left, top, right, bottom } = chart.chartArea;
        const ctx = chart.ctx;
        ctx.save();
        ctx.strokeStyle = "#333333";
        ctx.lineWidth = 1.3;
        ctx.strokeRect(left, top, right - left, bottom - top);
        ctx.restore();
      },
    };
    const legend = {
      id: "mplLegend",
      afterDraw(chart: any) {
        const ctx = chart.ctx;
        const lg = spec.legend;
        const x0 = lg.box[0] - cl, y0 = lg.box[1] - ct, x1 = lg.box[2] - cl, y1 = lg.box[3] - ct;
        ctx.save();
        const r = 3;
        ctx.beginPath();
        ctx.moveTo(x0 + r, y0);
        ctx.lineTo(x1 - r, y0);
        ctx.quadraticCurveTo(x1, y0, x1, y0 + r);
        ctx.lineTo(x1, y1 - r);
        ctx.quadraticCurveTo(x1, y1, x1 - r, y1);
        ctx.lineTo(x0 + r, y1);
        ctx.quadraticCurveTo(x0, y1, x0, y1 - r);
        ctx.lineTo(x0, y0 + r);
        ctx.quadraticCurveTo(x0, y0, x0 + r, y0);
        ctx.closePath();
        ctx.fillStyle = "rgba(255,255,255,0.85)";
        ctx.fill();
        ctx.strokeStyle = "#d0d0d0";
        ctx.lineWidth = 1;
        ctx.stroke();
        chart.data.datasets.forEach((ds: any, i: number) => {
          const y = lg.rows[i] - ct;
          ctx.strokeStyle = ds.borderColor;
          ctx.lineWidth = 2.8;
          ctx.beginPath();
          ctx.moveTo(lg.handle[0] - cl, y);
          ctx.lineTo(lg.handle[1] - cl, y);
          ctx.stroke();
          ctx.fillStyle = TEXT_COLOR;
          ctx.font = LEGEND_FONT;
          ctx.textBaseline = "middle";
          ctx.textAlign = "left";
          ctx.fillText(ds.label, lg.textX - cl, y);
        });
        ctx.restore();
      },
    };
    const grid = { display: true, drawOnChartArea: false, drawTicks: true, tickLength: 4, tickColor: "#333333", color: "#333333", lineWidth: 1 };
    const chart = new Chart(canvas, {
      type: "line",
      data: {
        datasets: spec.series.map((s) => ({
          label: s.label,
          data: s.data.map(([x, y]) => ({ x, y })),
          borderColor: s.color,
          backgroundColor: s.color,
          borderWidth: s.width,
          pointRadius: 0,
          tension: 0,
          fill: false,
          order: s.order,
          borderJoinStyle: "round" as const,
        })),
      },
      options: {
        animation: false,
        responsive: false,
        maintainAspectRatio: false,
        devicePixelRatio: 1,
        events: [],
        layout: { padding: { left: 0, top: PT, right: PR, bottom: 0 } },
        plugins: { legend: { display: false }, tooltip: { enabled: false }, title: { display: false } },
        scales: {
          x: {
            type: "linear",
            min: spec.x[0],
            max: spec.x[1],
            afterBuildTicks: (s: any) => { s.ticks = spec.xTicks.map((v) => ({ value: v })); },
            afterFit: (s: any) => { s.height = XH; s.paddingLeft = 0; s.paddingRight = 0; },
            ticks: { font: TICK_FONT, color: TEXT_COLOR, padding: 3, maxRotation: 0, autoSkip: false, callback: (v: any) => String(v) },
            grid,
            border: { display: false },
          },
          y: {
            type: "linear",
            min: spec.y[0],
            max: spec.y[1],
            afterBuildTicks: (s: any) => { s.ticks = spec.yTicks.map((v) => ({ value: v })); },
            afterFit: (s: any) => { s.width = YW; s.paddingTop = 0; s.paddingBottom = 0; },
            ticks: { font: TICK_FONT, color: TEXT_COLOR, padding: 4, autoSkip: false, callback: (v: any) => String(v) },
            grid,
            border: { display: false },
          },
        },
      } as any,
      plugins: [frame, legend],
    });
    return () => chart.destroy();
  }, []);

  return (
    <canvas
      ref={ref}
      width={cw}
      height={ch}
      style={{ position: "absolute", left: cl, top: ct, width: cw, height: ch, display: "block" }}
    />
  );
}

const LBW = 300, LBH = 24;

export default function App() {
  return (
    <div style={{ position: "absolute", left: 0, top: 0, width: 1019, height: 1389, overflow: "hidden", background: "#ffffff" }}>
      {PANELS.map((p, i) => <Panel key={i} spec={p} />)}
      {LABELS.map((l, i) => (
        <div
          key={"l" + i}
          style={{
            position: "absolute",
            left: l.x - LBW / 2,
            top: l.y - LBH / 2,
            width: LBW,
            height: LBH,
            lineHeight: `${LBH}px`,
            textAlign: "center",
            transform: l.rotate ? "rotate(-90deg)" : undefined,
            fontFamily: l.family,
            fontSize: l.size,
            color: TEXT_COLOR,
            whiteSpace: "nowrap",
          }}
        >
          {l.text}
        </div>
      ))}
    </div>
  );
}
